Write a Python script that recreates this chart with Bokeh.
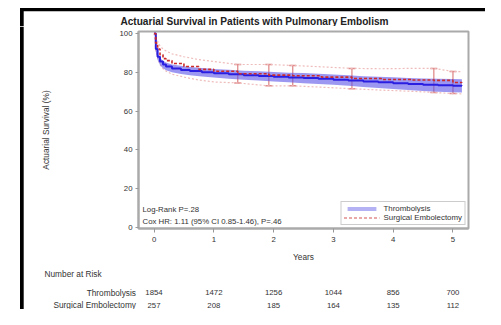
import numpy as np
from bokeh.plotting import figure
from bokeh.layouts import column, row
from bokeh.core.properties import value
from bokeh.models import (Range1d, Label, LabelSet, Legend, LegendItem,
                          Whisker, ColumnDataSource, FixedTicker)
from bokeh.embed import file_html
from bokeh.resources import INLINE

# ---------------- data ----------------
year_ticks = [0, 1, 2, 3, 4, 5]
surv_ticks = [0, 20, 40, 60, 80, 100]

thromb_t = [0, 0.03, 0.06, 0.1, 0.15, 0.2, 0.3, 0.45, 0.6, 0.8, 1.0, 1.25, 1.5, 1.75, 2.0,
            2.25, 2.5, 2.75, 3.0, 3.25, 3.5, 3.75, 4.0, 4.25, 4.5, 4.75, 5.0, 5.15]
thromb_s = [100, 92, 88, 85.5, 84, 83, 82, 81.2, 80.6, 80, 79.5, 79, 78.5, 78.1, 77.7,
            77.3, 77, 76.6, 76.2, 75.7, 75.2, 74.8, 74.4, 74, 73.6, 73.3, 73.1, 73]
thromb_lo = [100, 90.5, 86.3, 83.7, 82.1, 81, 80, 79.1, 78.5, 77.8, 77.3, 76.7, 76.2, 75.7, 75.3,
             74.8, 74.4, 74, 73.5, 73, 72.4, 71.9, 71.4, 70.9, 70.4, 70, 69.7, 69.6]
thromb_hi = [100, 93.5, 89.7, 87.3, 85.9, 85, 84, 83.3, 82.7, 82.2, 81.7, 81.3, 80.8, 80.5, 80.1,
             79.8, 79.6, 79.2, 78.9, 78.4, 78, 77.7, 77.4, 77.1, 76.8, 76.6, 76.5, 76.4]

surg_t = [0, 0.03, 0.06, 0.1, 0.15, 0.2, 0.3, 0.5, 0.75, 1.0, 1.4, 1.92, 2.32, 2.8, 3.31,
          3.8, 4.3, 4.68, 5.0, 5.15]
surg_s = [100, 95, 92, 89, 87, 86, 84.5, 83, 81.5, 80.5, 79.2, 78.5, 78.2, 77.5, 76.8,
          76.3, 76, 75.8, 74.7, 74.6]
surg_lo = [100, 91, 87.5, 84, 81.8, 80.6, 79, 77.5, 76, 75, 74.5, 73, 73, 72.3, 71.5,
           70.8, 70.2, 69.6, 69, 68.9]
surg_hi = [100, 98, 96, 93.5, 92, 91, 89.5, 88, 86.5, 85.5, 84, 84, 83.5, 82.8, 82,
           81.8, 82, 82, 80.4, 80.3]

surg_bar_t = [1.4, 1.92, 2.32, 3.31, 4.68, 5.0]
surg_bar_lo = [74.5, 73, 73, 71.5, 69.6, 69]
surg_bar_hi = [84, 84, 83.5, 82, 82, 80.4]

risk_years = [0, 1, 2, 3, 4, 5]
risk_thromb = [1854, 1472, 1256, 1044, 856, 700]
risk_surg = [257, 208, 185, 164, 135, 112]

title_text = "Actuarial Survival in Patients with Pulmonary Embolism"
stat_lines = ["Log-Rank P=.28", "Cox HR: 1.11 (95% CI 0.85-1.46), P=.46"]

# ---------------- layout (content pixel coordinates) ----------------
TOTAL_W, TOTAL_H = 485, 309
HEAD_H = 26                 # header strip: top border + title
LEFT_W = 24                 # left strip: black panel border
W = TOTAL_W - LEFT_W        # main plot + table width
H1 = 240                    # main plot height
H2 = TOTAL_H - HEAD_H - H1  # number-at-risk table height
FX0, FX1 = 114, 444         # frame left/right in main canvas
FY0, FY1 = 5, 202           # frame top/bottom in main canvas
XR = (-0.26, 5.26)
YR = (-0.5, 101)
PXU = (FX1 - FX0) / (XR[1] - XR[0])


def dx(cx):
    return XR[0] + (cx - FX0) / PXU


FONT = "Liberation Sans"
TXT = "#333333"


def no_align(f):
    if "frame_align" in type(f).properties():
        f.frame_align = False
    return f


def blank(w, h, xr, yr):
    f = figure(width=w, height=h, x_range=Range1d(*xr), y_range=Range1d(*yr),
               output_backend="svg", toolbar_location=None,
               min_border_left=0, min_border_right=0, min_border_top=0, min_border_bottom=0)
    f.axis.visible = False
    f.grid.visible = False
    f.outline_line_color = None
    f.background_fill_color = "white"
    f.border_fill_color = "white"
    return f


# header: black top border, left border start, title
head = blank(TOTAL_W, HEAD_H, (0, TOTAL_W), (HEAD_H, 0))
head.quad(left=[19.5], right=[TOTAL_W], top=[7.5], bottom=[10.7], fill_color="black",
          line_color=None)
head.quad(left=[19.5], right=[23.2], top=[7.5], bottom=[HEAD_H], fill_color="black",
          line_color=None)
head.add_layout(Label(x=254, y=21, text=title_text, text_align="center",
                      text_baseline="middle", text_font=FONT, text_font_size="10.1px",
                      text_font_style="bold", text_color="#222222"))

left = blank(LEFT_W, TOTAL_H - HEAD_H, (0, LEFT_W), (TOTAL_H - HEAD_H, 0))
left.quad(left=[19.5], right=[23.2], top=[0], bottom=[TOTAL_H], fill_color="black",
          line_color=None)

# ---------------- main plot ----------------
p = figure(width=W, height=H1, x_range=Range1d(*XR), y_range=Range1d(*YR),
           output_backend="svg", toolbar_location=None,
           min_border_left=FX0, min_border_right=W - FX1,
           min_border_top=FY0, min_border_bottom=H1 - FY1)
no_align(p)
p.xgrid.visible = False
p.ygrid.visible = False
p.outline_line_color = "#aaaaaa"
p.outline_line_width = 2
p.background_fill_color = "white"
p.border_fill_color = "white"

p.xaxis.ticker = FixedTicker(ticks=year_ticks)
p.yaxis.ticker = FixedTicker(ticks=surv_ticks)
for ax in (p.xaxis, p.yaxis):
    ax.axis_line_color = "#aaaaaa"
    ax.axis_line_width = 2
    ax.major_tick_line_color = "#999999"
    ax.minor_tick_line_color = None
    ax.major_tick_in = 0
    ax.major_label_text_font = FONT
    ax.major_label_text_font_size = "7.8px"
    ax.major_label_text_color = TXT
    ax.axis_label_text_font = FONT
    ax.axis_label_text_font_size = "8.3px"
    ax.axis_label_text_font_style = "normal"
    ax.axis_label_text_color = TXT
p.xaxis.major_tick_out = 4
p.yaxis.major_tick_out = 3
p.xaxis.major_label_standoff = 4
p.yaxis.major_label_standoff = 3
p.xaxis.axis_label = "Years"
p.xaxis.axis_label_standoff = 7
p.yaxis.axis_label = "Actuarial Survival (%)"
p.yaxis.axis_label_standoff = 65

# surgical (red)
red = "#cc2a2a"
p.line(surg_t, surg_lo, line_color="#efbcbc", line_width=1.2, line_dash="2 2")
p.line(surg_t, surg_hi, line_color="#efbcbc", line_width=1.2, line_dash="2 2")
wsrc = ColumnDataSource(dict(t=surg_bar_t, lo=surg_bar_lo, hi=surg_bar_hi))
wh = Whisker(source=wsrc, base="t", lower="lo", upper="hi",
             line_color="#e08c8c", line_width=1.3)
for hd in (wh.upper_head, wh.lower_head):
    hd.size = 7
    hd.line_color = "#e08c8c"
    hd.line_width = 1.5
p.add_layout(wh)

# thrombolysis (blue)
p.varea(x=thromb_t, y1=thromb_lo, y2=thromb_hi, fill_color="#5a52e8", fill_alpha=0.6)
p.step(thromb_t, thromb_s, mode="after", line_color="#2a1ee0", line_width=2)
p.step(surg_t, surg_s, mode="after", line_color=red, line_width=1.6, line_dash="3 2")

leg_blue = p.varea(x=[0, 0], y1=[0, 0], y2=[0, 0], fill_color="#b4b2f4", fill_alpha=1,
                   visible=False)
leg_red = p.line([0, 0], [0, 0], line_color="#e38d8d", line_width=1.5, line_dash="3 2",
                 visible=False)
legend = Legend(items=[LegendItem(label="Thrombolysis", renderers=[leg_blue]),
                       LegendItem(label="Surgical Embolectomy", renderers=[leg_red])],
                location="bottom_right")
legend.margin = 3
legend.padding = 2
legend.spacing = 0
legend.label_height = 8
legend.glyph_height = 5
legend.glyph_width = 36
legend.label_standoff = 4
legend.label_text_font = FONT
legend.label_text_font_size = "7.9px"
legend.label_text_color = TXT
legend.border_line_color = "#999999"
legend.border_line_width = 1.5
legend.background_fill_alpha = 1
p.add_layout(legend)

for i, s in enumerate(stat_lines):
    p.add_layout(Label(x=4, y=19 - 11.5 * i, x_units="screen", y_units="screen", text=s,
                       text_align="left", text_baseline="middle", text_font=FONT,
                       text_font_size="7.8px", text_color=TXT))

# ---------------- number-at-risk table ----------------
q = blank(W, H2, (dx(0), dx(W)), (H2, 0))
no_align(q)
q.add_layout(Label(x=dx(20), y=7, text="Number at Risk", text_align="left",
                   text_baseline="middle", text_font=FONT, text_font_size="8.3px",
                   text_color=TXT))
row_y = [26, 38.5]
row_names = ["Thrombolysis", "Surgical Embolectomy"]
for yy, name, vals in zip(row_y, row_names, [risk_thromb, risk_surg]):
    q.add_layout(Label(x=dx(111.5), y=yy, text=name, text_align="right",
                       text_baseline="middle", text_font=FONT, text_font_size="8.3px",
                       text_color=TXT))
    src = ColumnDataSource(dict(x=risk_years, y=[yy] * len(risk_years),
                                t=[str(v) for v in vals]))
    q.add_layout(LabelSet(x="x", y="y", text="t", source=src, text_align="center",
                          text_baseline="middle", text_font=value(FONT),
                          text_font_size=value("7.8px"), text_color=TXT))

layout = column(head, row(left, column(p, q, spacing=0), spacing=0), spacing=0)

open("out.html", "w").write(file_html(layout, INLINE))
